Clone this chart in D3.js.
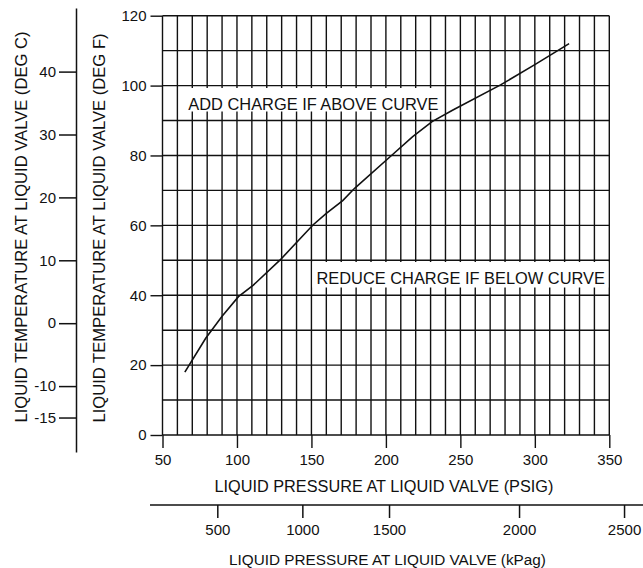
<!DOCTYPE html>
<html>
<head>
<meta charset="utf-8">
<script src="https://cdn.jsdelivr.net/npm/d3@7"></script>
<style>
  html, body { margin: 0; padding: 0; background: #fff; }
  svg { display: block; }
  text { font-family: "Liberation Sans", Arial, Helvetica, sans-serif; fill: #111; }
</style>
</head>
<body>
<svg id="chart" width="643" height="568"></svg>
<script>
// ---- data ----
const curvePsig = [65, 79, 90, 101, 111, 129, 151, 160, 171, 179, 203, 218, 231, 245, 277, 300, 323];
const curveDegF = [18, 27.7, 34, 39.6, 42.9, 50.1, 60.1, 63.4, 67.1, 70.6, 79.7, 85.4, 89.7, 93, 100.2, 106, 112];
const psigTicks = [50, 100, 150, 200, 250, 300, 350];
const degFTicks = [0, 20, 40, 60, 80, 100, 120];
const degCTicks = [40, 30, 20, 10, 0, -10, -15];
const kPaTicks = [500, 1000, 1500, 2000, 2500];
// where each printed kPa tick sits on the PSIG scale, as drawn in the chart
const kPaTickAtPsig = [86.8, 143.9, 202.1, 289.4, 359.9];
const psigGrid = d3.range(50, 351, 10);
const degFGrid = d3.range(0, 121, 10);
const labelAbove = "ADD CHARGE IF ABOVE CURVE";
const labelBelow = "REDUCE CHARGE IF BELOW CURVE";
const titleC = "LIQUID TEMPERATURE AT LIQUID VALVE (DEG C)";
const titleF = "LIQUID TEMPERATURE AT LIQUID VALVE (DEG F)";
const titlePsig = "LIQUID PRESSURE AT LIQUID VALVE (PSIG)";
const titleKPa = "LIQUID PRESSURE AT LIQUID VALVE (kPag)";

// ---- scales ----
const svg = d3.select("#chart");
const x = d3.scaleLinear().domain([50, 350]).range([162.5, 609.3]);
const y = d3.scaleLinear().domain([0, 120]).range([435, 15.7]);
const fToC = f => (f - 32) / 1.8;
const yC = d3.scaleLinear().domain([fToC(-4.9), fToC(122.2)]).range([y(-4.9), y(122.2)]);
const kx = d3.scaleLinear().domain(kPaTicks).range(kPaTickAtPsig.map(x));

const ink = "#111";
const gw = 1.4;
const fam = '"Liberation Sans", Arial, sans-serif';
const plain = d => String(d);

// ---- grid ----
const grid = svg.append("g");
grid.selectAll("line.v").data(psigGrid).join("line")
  .attr("x1", d => x(d)).attr("x2", d => x(d))
  .attr("y1", y(0)).attr("y2", y(120))
  .attr("stroke", ink).attr("stroke-width", gw);
grid.selectAll("line.h").data(degFGrid).join("line")
  .attr("x1", x(50)).attr("x2", x(350))
  .attr("y1", d => y(d)).attr("y2", d => y(d))
  .attr("stroke", ink).attr("stroke-width", gw);

// ---- label boxes ----
function boxedLabel(txt, tx, baseline, bx0, bx1, by0, by1) {
  svg.append("rect").attr("x", bx0).attr("y", by0)
    .attr("width", bx1 - bx0).attr("height", by1 - by0).attr("fill", "#fff");
  svg.append("text").attr("x", tx).attr("y", baseline)
    .attr("font-size", 16.4).text(txt);
}
boxedLabel(labelAbove, 188.3, 109.5, x(60) + 1.5, x(240) - 1.5, 88, 111.5);
boxedLabel(labelBelow, 316.5, 284, x(150) + 1, x(350) - 1, 262, 287.5);

// ---- curve ----
const pts = curvePsig.map((p, i) => [p, curveDegF[i]]);
svg.append("path").datum(pts)
  .attr("d", d3.line().x(d => x(d[0])).y(d => y(d[1])))
  .attr("fill", "none").attr("stroke", ink).attr("stroke-width", 1.6);

function styleAxis(g, w) {
  g.selectAll("line").attr("stroke", ink).attr("stroke-width", w);
  g.selectAll("text").attr("font-size", 15).attr("fill", ink).attr("font-family", fam);
}

// ---- F axis ----
const axF = svg.append("g").attr("transform", `translate(${x(50)},0)`)
  .call(d3.axisLeft(y).tickValues(degFTicks).tickFormat(plain).tickSize(12).tickPadding(4).tickSizeOuter(0));
axF.select(".domain").remove();
styleAxis(axF, gw);

// ---- PSIG axis ----
const axP = svg.append("g").attr("transform", `translate(0,${y(0)})`)
  .call(d3.axisBottom(x).tickValues(psigTicks).tickFormat(plain).tickSize(13).tickPadding(6).tickSizeOuter(0));
axP.select(".domain").remove();
styleAxis(axP, gw);

// ---- C axis ----
const axC = svg.append("g").attr("transform", "translate(76,0)")
  .call(d3.axisLeft(yC).tickValues(degCTicks).tickFormat(plain).tickSize(17).tickPadding(3).tickSizeOuter(0));
axC.select(".domain").attr("stroke", ink).attr("stroke-width", 1.5);
styleAxis(axC, 1.5);

// ---- kPa axis ----
const axK = svg.append("g").attr("transform", "translate(0,505)")
  .call(d3.axisBottom(kx).tickValues(kPaTicks).tickFormat(plain).tickSize(13).tickPadding(6).tickSizeOuter(0));
axK.select(".domain").remove();
axK.append("line").attr("x1", 150).attr("x2", 643).attr("y1", 0).attr("y2", 0);
styleAxis(axK, 1.5);

// ---- titles ----
svg.append("text").attr("transform", "translate(27,227) rotate(-90)")
  .attr("text-anchor", "middle").attr("font-size", 16.6).text(titleC);
svg.append("text").attr("transform", "translate(104.5,228) rotate(-90)")
  .attr("text-anchor", "middle").attr("font-size", 16.6).text(titleF);
svg.append("text").attr("x", (x(50) + x(350)) / 2 - 2).attr("y", 491.5)
  .attr("text-anchor", "middle").attr("font-size", 16.3).text(titlePsig);
svg.append("text").attr("x", 387.5).attr("y", 565)
  .attr("text-anchor", "middle").attr("font-size", 15.3).text(titleKPa);
</script>
</body>
</html>
